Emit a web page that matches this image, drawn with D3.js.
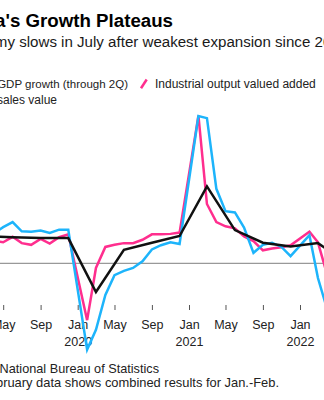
<!DOCTYPE html>
<html>
<head>
<meta charset="utf-8">
<script src="https://cdn.jsdelivr.net/npm/d3@7"></script>
<style>
  html, body { margin: 0; padding: 0; background: #fff; overflow: hidden; }
  svg { display: block; font-family: "Liberation Sans", Arial, Helvetica, sans-serif; }
</style>
</head>
<body>
<svg id="chart" width="324" height="400"></svg>
<script>
// ---- Data (monthly; January is combined into February) ----
const monthDates = [
  "2019-02","2019-03","2019-04","2019-05","2019-06","2019-07","2019-08","2019-09","2019-10","2019-11","2019-12",
  "2020-02","2020-03","2020-04","2020-05","2020-06","2020-07","2020-08","2020-09","2020-10","2020-11","2020-12",
  "2021-02","2021-03","2021-04","2021-05","2021-06","2021-07","2021-08","2021-09","2021-10","2021-11","2021-12",
  "2022-02","2022-03","2022-04","2022-05","2022-06","2022-07"
];
const industrialOutput = [
  5.3, 8.5, 5.4, 5.0, 6.3, 4.8, 4.4, 5.8, 4.7, 6.2, 6.9,
  -13.5, -1.1, 3.9, 4.4, 4.8, 4.8, 5.6, 6.9, 6.9, 7.0, 7.3,
  35.1, 14.1, 9.8, 8.8, 8.3, 6.4, 5.3, 3.1, 3.5, 3.8, 4.3,
  7.5, 5.0, -2.9, 0.7, 3.9, 3.8
];
const retailSales = [
  8.2, 8.7, 7.2, 8.6, 9.8, 7.6, 7.5, 7.8, 7.2, 8.0, 8.0,
  -20.5, -15.8, -7.5, -2.8, -1.8, -1.1, 0.5, 3.3, 4.3, 5.0, 4.6,
  35.0, 34.5, 17.7, 12.4, 12.1, 8.5, 2.5, 4.4, 4.9, 3.9, 1.7,
  6.7, -3.5, -11.1, -6.7, 3.1, 2.7
];
// Quarterly GDP (plotted at quarter-end month)
const gdpDates = [
  "2019-03","2019-06","2019-09","2019-12",
  "2020-03","2020-06","2020-09","2020-12",
  "2021-03","2021-06","2021-09","2021-12",
  "2022-03","2022-06"
];
const gdpGrowth = [
  6.4, 6.2, 6.0, 6.0,
  -6.8, 3.2, 4.9, 6.5,
  18.3, 7.9, 4.9, 4.0,
  4.8, 0.4
];
const tickDates = ["2019-05","2019-09","2020-01","2020-05","2020-09","2021-01","2021-05","2021-09","2022-01","2022-05"];
const monthNames = ["Jan","Feb","Mar","Apr","May","Jun","Jul","Aug","Sep","Oct","Nov","Dec"];

const titleText = "China's Growth Plateaus";
const subtitleText = "China's economy slows in July after weakest expansion since 2020";
const legendGdp = "Quarterly GDP growth (through 2Q)";
const legendIndustrial = "Industrial output valued added";
const legendRetail = "Retail sales value";
const sourceText = "Source: National Bureau of Statistics";
const noteText = "Note: February data shows combined results for Jan.-Feb.";

const colors = { gdp: "#111111", industrial: "#ff2e8e", retail: "#1db4fb" };

// ---- Setup ----
const svg = d3.select("#chart");
svg.append("rect").attr("width", 324).attr("height", 400).attr("fill", "#fff");
const parse = d3.timeParse("%Y-%m");

const x = d3.scaleTime()
  .domain([parse("2020-01"), parse("2022-01")])
  .range([77.7, 300]);
const y = d3.scaleLinear().domain([-20, 40]).range([347.5, 95]);

// ---- Title / subtitle ----
svg.append("text").attr("x", 173).attr("y", 27).attr("text-anchor", "end")
  .attr("font-size", 18.7).attr("font-weight", "bold").attr("fill", "#000").text(titleText);

const subSize = 15.1;
const sub = svg.append("text").attr("y", 47).attr("font-size", subSize).attr("fill", "#1a1a1a").text(subtitleText);
const tmp = svg.append("text").attr("font-size", subSize).text("China's economy ");
const prefixW = tmp.node().getComputedTextLength();
tmp.remove();
sub.attr("x", 15 - prefixW);

// ---- Legend ----
svg.append("text").attr("x", 128).attr("y", 88).attr("text-anchor", "end")
  .attr("font-size", 11.5).attr("fill", "#222").text(legendGdp);
svg.append("line").attr("x1", 141).attr("y1", 88.3).attr("x2", 146.7).attr("y2", 79.5)
  .attr("stroke", colors.industrial).attr("stroke-width", 2.5);
svg.append("text").attr("x", 155).attr("y", 88).attr("font-size", 12).attr("fill", "#222").text(legendIndustrial);
svg.append("text").attr("x", 57).attr("y", 104).attr("text-anchor", "end")
  .attr("font-size", 12).attr("fill", "#222").text(legendRetail);

// ---- Axis ----
const ticks = tickDates.map(parse);
const axis = d3.axisBottom(x).tickValues(ticks).tickSize(5).tickSizeOuter(0)
  .tickFormat(d => monthNames[d.getMonth()]);
const gx = svg.append("g").attr("transform", "translate(0,305)").call(axis);
gx.select(".domain").remove();
gx.selectAll(".tick line").attr("stroke", "#555").attr("stroke-width", 1);
gx.selectAll(".tick text").attr("font-size", 12.5).attr("fill", "#222")
  .attr("font-family", "Liberation Sans, Arial, sans-serif").attr("dy", 0).attr("y", 24);
gx.selectAll(".tick").filter(d => d.getMonth() === 0).append("text")
  .attr("y", 40.5).attr("fill", "#222").attr("font-size", 12.5).attr("text-anchor", "middle")
  .attr("font-family", "Liberation Sans, Arial, sans-serif")
  .text(d => d.getFullYear());

// ---- Zero line ----
svg.append("line").attr("x1", 0).attr("x2", 324).attr("y1", y(0)).attr("y2", y(0))
  .attr("stroke", "#999").attr("stroke-width", 1.2);

// ---- Lines ----
const line = d3.line().x(d => x(d.date)).y(d => y(d.value));
const monthly = (vals) => monthDates.map((m, i) => ({ date: parse(m), value: vals[i] }));
const gdpData = gdpDates.map((m, i) => ({ date: parse(m), value: gdpGrowth[i] }));

svg.append("path").datum(monthly(industrialOutput)).attr("d", line)
  .attr("fill", "none").attr("stroke", colors.industrial).attr("stroke-width", 2.5);
svg.append("path").datum(monthly(retailSales)).attr("d", line)
  .attr("fill", "none").attr("stroke", colors.retail).attr("stroke-width", 2.5);
svg.append("path").datum(gdpData).attr("d", line)
  .attr("fill", "none").attr("stroke", colors.gdp).attr("stroke-width", 2.5);

// ---- Footer ----
svg.append("text").attr("x", 159).attr("y", 373).attr("text-anchor", "end")
  .attr("font-size", 12.7).attr("fill", "#222").text(sourceText);
svg.append("text").attr("x", 279).attr("y", 387).attr("text-anchor", "end")
  .attr("font-size", 12.9).attr("fill", "#222").text(noteText);
</script>
</body>
</html>
